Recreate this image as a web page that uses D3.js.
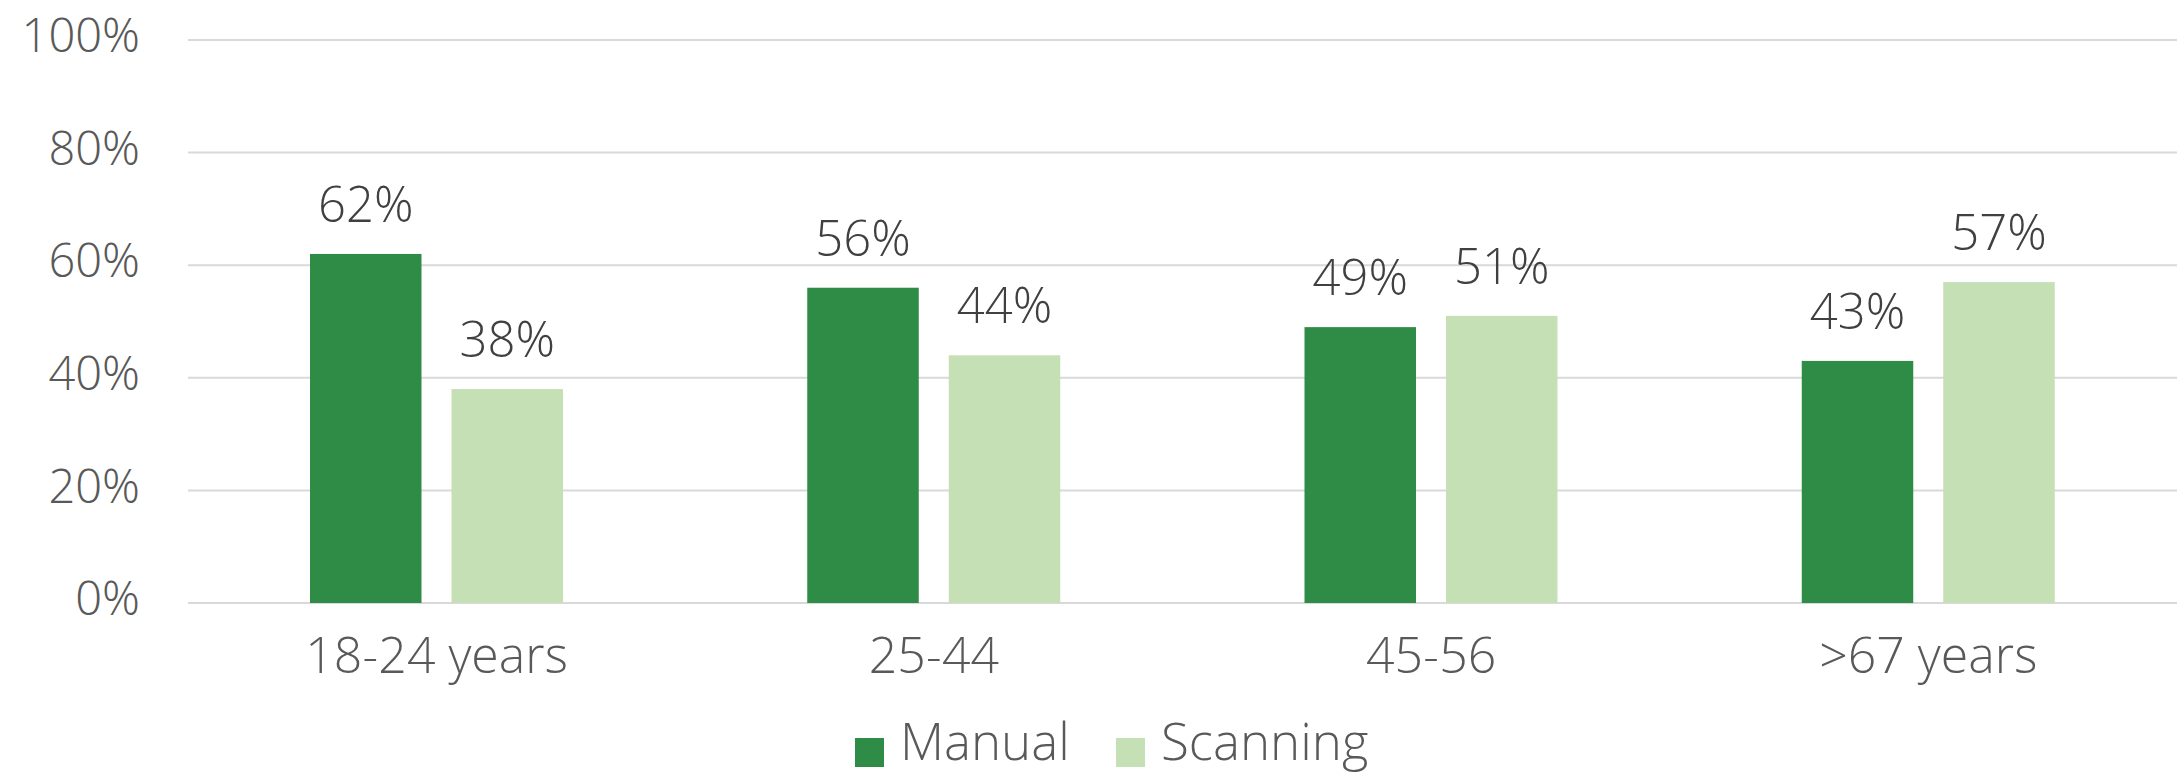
<!DOCTYPE html>
<html>
<head>
<meta charset="utf-8">
<script src="https://cdn.jsdelivr.net/npm/d3@7"></script>
<style>
  html, body { margin: 0; padding: 0; background: #ffffff; }
  svg { display: block; }
  text { font-family: "Open Sans Light", "Open Sans", "Noto Sans", sans-serif; font-weight: 300; }
</style>
</head>
<body>
<svg id="chart" width="2183" height="774"></svg>
<script>
const categories = ["18-24 years", "25-44", "45-56", ">67 years"];
const seriesNames = ["Manual", "Scanning"];
const manualValues = [0.62, 0.56, 0.49, 0.43];
const scanningValues = [0.38, 0.44, 0.51, 0.57];
const yTicks = [0, 0.2, 0.4, 0.6, 0.8, 1.0];
const colors = ["#2e8c46", "#c5e0b4"];

const svg = d3.select("#chart");
const plotLeft = 188, plotRight = 2177, plotTop = 40, plotBottom = 603;
const FONT = '"Open Sans Light", "Open Sans", sans-serif';

const y = d3.scaleLinear().domain([0, 1]).range([plotBottom, plotTop]);
const x0 = d3.scaleBand().domain(categories).range([plotLeft, plotRight]).padding(0);
const x1 = d3.scaleBand().domain(seriesNames).range([122, 375]).paddingInner(0.212).paddingOuter(0);
const color = d3.scaleOrdinal().domain(seriesNames).range(colors);
const fmt = d3.format(".0%");

// gridlines
svg.append("g").selectAll("line").data(yTicks).join("line")
  .attr("x1", plotLeft).attr("x2", plotRight)
  .attr("y1", d => y(d)).attr("y2", d => y(d))
  .attr("stroke", "#d9d9d9").attr("stroke-width", 2);

// y axis labels
const yAxis = d3.axisLeft(y).tickValues(yTicks).tickFormat(fmt).tickSize(0).tickPadding(0);
const ya = svg.append("g").attr("transform", "translate(140,0)").call(yAxis);
ya.select(".domain").remove();
ya.selectAll("text")
  .attr("font-size", 47).attr("fill", "#595959")
  .attr("font-family", FONT).attr("font-weight", 300)
  .attr("dy", "0.25em");

// x axis labels
const xAxis = d3.axisBottom(x0).tickSize(0).tickPadding(0);
const xa = svg.append("g").attr("transform", `translate(0,${plotBottom})`).call(xAxis);
xa.select(".domain").remove();
xa.selectAll("text")
  .attr("font-size", 50).attr("fill", "#595959")
  .attr("font-family", FONT).attr("font-weight", 300)
  .attr("y", 70).attr("dy", 0);

// data
const rows = categories.map((c, i) => ({
  cat: c,
  vals: [
    { key: "Manual", value: manualValues[i] },
    { key: "Scanning", value: scanningValues[i] }
  ]
}));

const groups = svg.append("g").selectAll("g").data(rows).join("g")
  .attr("transform", d => `translate(${x0(d.cat)},0)`);

groups.selectAll("rect").data(d => d.vals).join("rect")
  .attr("x", d => x1(d.key))
  .attr("width", x1.bandwidth())
  .attr("y", d => y(d.value))
  .attr("height", d => y(0) - y(d.value))
  .attr("fill", d => color(d.key));

groups.selectAll("text.val").data(d => d.vals).join("text")
  .attr("class", "val")
  .attr("x", d => x1(d.key) + x1.bandwidth() / 2)
  .attr("y", d => y(d.value) - 32)
  .attr("text-anchor", "middle")
  .attr("font-size", 49)
  .attr("fill", "#404040")
  .text(d => fmt(d.value));

// legend
const legendX = [855, 1116];
const lg = svg.append("g").selectAll("g").data(seriesNames).join("g")
  .attr("transform", (d, i) => `translate(${legendX[i]},0)`);
lg.append("rect").attr("x", 0).attr("y", 738).attr("width", 29).attr("height", 29)
  .attr("fill", d => color(d));
lg.append("text").attr("x", 45).attr("y", 760)
  .attr("font-size", 51).attr("fill", "#595959")
  .text(d => d);
</script>
</body>
</html>
